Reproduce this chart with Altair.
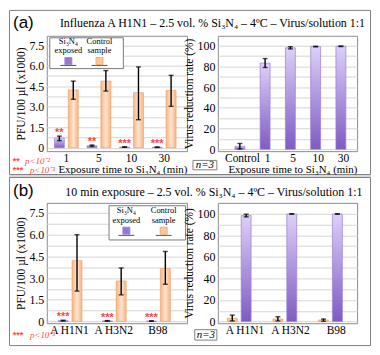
import altair as alt
import pandas as pd

# ---------------- data ----------------
# (a) left: PFU/100 µl (x1000) vs exposure time
times = ["1", "5", "10", "30"]
pfu_exposed = [0.70, 0.15, 0.05, 0.04]
pfu_exposed_lo = [0.52, 0.10, 0.03, 0.02]
pfu_exposed_hi = [0.85, 0.20, 0.07, 0.06]
pfu_control = [4.23, 4.88, 4.03, 4.20]
pfu_control_lo = [3.55, 4.15, 2.05, 3.03]
pfu_control_hi = [4.88, 5.65, 5.92, 5.30]
stars_a = ["**", "**", "***", "***"]

# (a) right: virus reduction rate (%)
rate_cats = ["Control", "1", "5", "10", "30"]
rate_a = [2.8, 83.1, 97.9, 99.1, 99.4]
rate_a_lo = [0.3, 78.9, 96.8, 98.8, 99.1]
rate_a_hi = [5.6, 87.5, 99.0, 99.4, 99.7]

# (b) left: PFU per strain
strains = ["A H1N1", "A H3N2", "B98"]
pfu_b_exposed = [0.06, 0.04, 0.03]
pfu_b_exposed_lo = [0.03, 0.02, 0.01]
pfu_b_exposed_hi = [0.09, 0.06, 0.05]
pfu_b_control = [4.20, 2.80, 3.66]
pfu_b_control_lo = [2.10, 1.84, 2.57]
pfu_b_control_hi = [6.00, 3.70, 4.84]
stars_b = ["***", "***", "***"]

# (b) right: reduction rate per strain
rate_b_control = [3.0, 2.4, 1.5]
rate_b_control_lo = [0.6, 0.6, 0.3]
rate_b_control_hi = [6.0, 4.5, 2.4]
rate_b_exposed = [98.2, 99.7, 99.7]
rate_b_exposed_lo = [97.0, 99.5, 99.5]
rate_b_exposed_hi = [99.5, 99.9, 99.9]

title_a = "Influenza A H1N1 – 2.5 vol. % Si₃N₄ – 4ºC – Virus/solution 1:1"
title_b = "10 min exposure – 2.5 vol. % Si₃N₄ – 4ºC – Virus/solution 1:1"
x_title = "Exposure time to Si₃N₄ (min)"
pfu_title = "PFU/100 µl (x1000)"
rate_title = "Virus reduction rate (%)"


def frame(cats, groups):
    rows = []
    for i, c in enumerate(cats):
        for k, (s, (v, lo, hi, st)) in enumerate(groups.items()):
            rows.append({"cat": c, "series": s, "pos": str(k), "value": v[i],
                         "lo": lo[i], "hi": hi[i], "stars": st[i] if st else ""})
    return pd.DataFrame(rows)


df_a_left = frame(times, {
    "exposed": (pfu_exposed, pfu_exposed_lo, pfu_exposed_hi, stars_a),
    "control": (pfu_control, pfu_control_lo, pfu_control_hi, None)})
df_a_right = frame(rate_cats, {"exposed": (rate_a, rate_a_lo, rate_a_hi, None)})
df_b_left = frame(strains, {
    "exposed": (pfu_b_exposed, pfu_b_exposed_lo, pfu_b_exposed_hi, stars_b),
    "control": (pfu_b_control, pfu_b_control_lo, pfu_b_control_hi, None)})
df_b_right = frame(strains, {
    "control": (rate_b_control, rate_b_control_lo, rate_b_control_hi, None),
    "exposed": (rate_b_exposed, rate_b_exposed_lo, rate_b_exposed_hi, None)})

# ---------------- style ----------------
SERIF = "Liberation Serif"
SANS = "Liberation Sans"
RED = "#ff4545"
PURPLE_FILL = {"gradient": "linear", "x1": 0, "y1": 0, "x2": 0, "y2": 1,
               "stops": [{"offset": 0, "color": "#ddd0f8"},
                         {"offset": 1, "color": "#7e5bc3"}]}
ORANGE_FILL = {"gradient": "linear", "x1": 0, "y1": 0, "x2": 1, "y2": 0,
               "stops": [{"offset": 0, "color": "#f7b584"},
                         {"offset": 0.5, "color": "#fde4cf"},
                         {"offset": 1, "color": "#f7b584"}]}
FILLS = {"exposed": PURPLE_FILL, "control": ORANGE_FILL}
STROKES = {"exposed": "#9a7ed6", "control": "#f2a263"}
SOLID = {"exposed": "#9577d6", "control": "#fcc79b"}

ONE = alt.Data(values=[{"k": 1}])


def txt(t, x, y, size=12, font=SERIF, color="black", align="center", style="normal", weight="normal"):
    return alt.Chart(ONE).mark_text(
        text=t, font=font, fontSize=size, color=color, align=align, baseline="middle",
        fontStyle=style, fontWeight=weight).encode(x=alt.value(x), y=alt.value(y))


def box(x0, x1, y0, y1, fill="white", fill_opacity=1.0, stroke="#808080", sw=1.0):
    return alt.Chart(ONE).mark_rect(
        fill=fill, fillOpacity=fill_opacity, stroke=stroke, strokeWidth=sw).encode(
        x=alt.value(x0), x2=alt.value(x1), y=alt.value(y0), y2=alt.value(y1))


def legend(bx, c1, c2, ly1, ly2, sy, lny):
    layers = [box(*bx, fill="white", stroke="#7a7a7a")]
    layers += [txt("Si₃N₄", c1, ly1, 8.5), txt("exposed", c1, ly2, 8.5),
               txt("Control", c2, ly1, 8.5), txt("sample", c2, ly2, 8.5)]
    for cx, s in [(c1, "exposed"), (c2, "control")]:
        layers.append(alt.Chart(ONE).mark_rule(color="#555555", strokeWidth=1).encode(
            x=alt.value(cx - 8), x2=alt.value(cx + 8), y=alt.value(lny)))
        layers.append(alt.Chart(ONE).mark_square(
            size=50, fill=SOLID[s], stroke=STROKES[s], strokeWidth=0.8, opacity=1).encode(
            x=alt.value(cx), y=alt.value(sy)))
    return layers


def data_layers(df, cats, xs, off_pad, ydom, yvals, ylabels, ytitle, xtitle, xtitle_x=None):
    xa = dict(title=xtitle, labelAngle=0, ticks=False, domain=False, grid=False,
              labelPadding=1, titlePadding=0, labelFont=SERIF, labelFontSize=11.5,
              labelColor="black", titleFont=SERIF, titleFontSize=11,
              titleFontWeight="normal", titleColor="black")
    if xtitle_x is not None:
        xa["titleX"] = xtitle_x
    X = alt.X("cat:N", sort=cats, scale=alt.Scale(domain=cats, **xs), axis=alt.Axis(**xa))
    XO = alt.XOffset("pos:N", scale=alt.Scale(paddingInner=off_pad))
    yaxis = alt.Axis(values=yvals, labelExpr=ylabels, title=ytitle, grid=True,
                     gridColor="#d5d5d5", ticks=False, domain=False, labelPadding=3,
                     titlePadding=2, labelFont=SERIF, labelFontSize=12, labelColor="black",
                     titleFont=SERIF, titleFontSize=11.5, titleFontWeight="normal",
                     titleColor="black")
    ysc = alt.Scale(domain=ydom, nice=False, zero=False)

    def Y(f):
        return alt.Y(f, type="quantitative", scale=ysc, axis=yaxis)

    layers = []
    for s in ["exposed", "control"]:
        if s in set(df["series"]):
            layers.append(alt.Chart(df).transform_filter(alt.datum.series == s).mark_bar(
                fill=FILLS[s], stroke=STROKES[s], strokeWidth=0.7).encode(
                x=X, xOffset=XO, y=Y("value"), y2=alt.datum(0)))
    base = alt.Chart(df)
    layers.append(base.mark_rule(color="black", strokeWidth=1.4).encode(
        x=X, xOffset=XO, y=Y("lo"), y2=alt.Y2("hi")))
    for f in ["lo", "hi"]:
        layers.append(base.mark_tick(color="black", orient="horizontal", size=5,
                                     thickness=1.4).encode(x=X, xOffset=XO, y=Y(f)))
    stars = df[df["stars"] != ""]
    if len(stars):
        layers.append(alt.Chart(stars).mark_text(
            color=RED, font=SANS, fontSize=11, fontWeight="bold", baseline="middle",
            dy=-3).encode(x=X, xOffset=XO, y=Y("hi"), text="stars:N"))
    return layers


pfu_vals = [i * 0.75 for i in range(11)]
pfu_labels = "datum.value == 0 ? '0' : (datum.value % 1.5 == 0 ? format(datum.value, '.1f') : '')"
rate_vals = list(range(0, 101, 10))
rate_labels = "datum.value % 20 == 0 ? format(datum.value, 'd') : ''"

# ---------------- (a) ----------------
a_left_layers = [
    box(-37.5, 325.5, -25.5, 139.5, fill="white", fill_opacity=0, stroke="#808080"),
    txt("(a)", -23.5, -13, 17, SANS),
    txt(title_a, 166.6, -12.6, 12),
    txt("**", -34.1, 125.5, 9, SANS, RED, "left", weight="bold"),
    txt("p<10⁻²", -22, 125.5, 9, SERIF, RED, "left", "italic"),
    txt("***", -34.1, 134.5, 9, SANS, RED, "left", weight="bold"),
    txt("p<10⁻³", -17, 134.5, 9, SERIF, RED, "left", "italic"),
] + data_layers(df_a_left, times,
                {"paddingInner": 0.27, "paddingOuter": 0.285, "align": 0.41}, 0.286,
                [-0.25, 8.2], pfu_vals, pfu_labels, pfu_title, x_title, 76) + \
    legend((3, 77, 2, 33), 21.7, 53, 5.7, 14.4, 25.4, 29.8)

a_right_layers = data_layers(df_a_right, rate_cats,
                             {"paddingInner": 0.4, "paddingOuter": 0.456, "align": 0.74}, 0,
                             [-1.8, 109.5], rate_vals, rate_labels, rate_title, x_title, 75) + [
    box(-25, -1, 125.3, 134.8, fill="white", stroke="#808080"),
    txt("n=3", -13, 130, 11, SERIF, "black", "center", "italic"),
]

# ---------------- (b) ----------------
b_left_layers = [
    box(-38, 326, -28, -26, fill="#d8d8d8", stroke="#d8d8d8", sw=0),
    box(-37.5, 325.5, -25.5, 143.5, fill="white", fill_opacity=0, stroke="#808080"),
    txt("(b)", -23.5, -11.7, 17, SANS),
    txt(title_b, 168, -11.2, 12),
    txt("***", -34.1, 133.3, 9, SANS, RED, "left", weight="bold"),
    txt("p<10⁻³", -17, 133.3, 9, SERIF, RED, "left", "italic"),
] + data_layers(df_b_left, strains,
                {"paddingInner": 0.485, "paddingOuter": 0.33, "align": 0.39}, 0.3,
                [-0.12, 8.2], pfu_vals, pfu_labels, pfu_title, None) + \
    legend((62.6, 139.6, 2.9, 37.3), 80, 117.5, 7.4, 17, 28, 32.7)

b_right_layers = data_layers(df_b_right, strains,
                             {"paddingInner": 0.228, "paddingOuter": 0.14, "align": 0.74}, 0.22,
                             [-1.5, 110], rate_vals, rate_labels, rate_title, None) + [
    box(-23.2, -1, 127.5, 138, fill="white", stroke="#808080"),
    txt("n=3", -12, 132.7, 11, SERIF, "black", "center", "italic"),
]

a_left = alt.layer(*a_left_layers).properties(width=141, height=116)
a_right = alt.layer(*a_right_layers).properties(width=140, height=116)
b_left = alt.layer(*b_left_layers).properties(width=141, height=121)
b_right = alt.layer(*b_right_layers).properties(width=140, height=121)

chart = alt.concat(
    a_left, a_right, b_left, b_right, columns=2,
    spacing={"row": 52, "column": 31}, bounds="flush"
).properties(padding=0, background="white").configure_view(
    stroke="#8c8c8c", strokeWidth=1)

chart.save("out.html", embed_options={"renderer": "svg", "actions": False})
